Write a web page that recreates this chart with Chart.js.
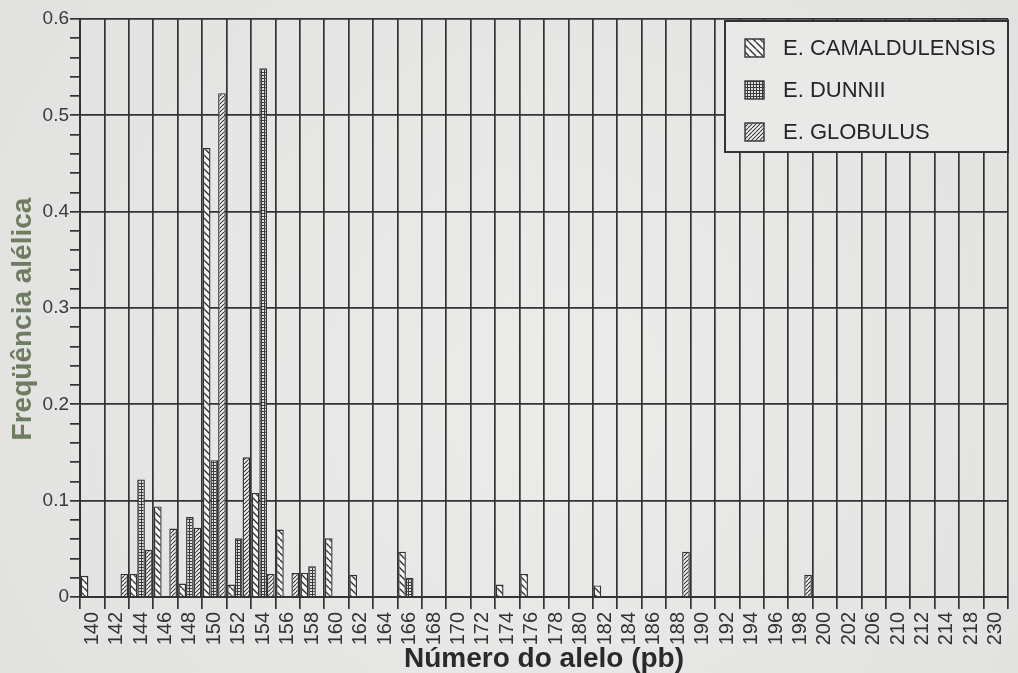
<!DOCTYPE html>
<html>
<head>
<meta charset="utf-8">
<script src="https://cdn.jsdelivr.net/npm/chart.js@4.4.1/dist/chart.umd.min.js"></script>
<style>
  html, body { margin: 0; padding: 0; background: #e7e7e5; }
  #wrap { width: 1018px; height: 673px; }
</style>
</head>
<body>
<div id="wrap"><canvas id="chart" width="1018" height="673"></canvas></div>
<script>
// Allele sizes (pb) on the category axis
const alleles = ['140','142','144','146','148','150','152','154','156','158','160','162','164','166','168','170','172','174','176','178','180','182','184','186','188','190','192','194','196','198','200','202','206','210','212','214','218','230'];

// Allele frequencies per species (null = allele not observed)
const camaldulensis = [0.022, null, 0.024, 0.094, 0.014, 0.466, 0.013, 0.108, 0.070, 0.025, 0.061, 0.023, null, 0.047, null, null, null, 0.013, 0.024, null, null, 0.012,
  null, null, null, null, null, null, null, null, null, null, null, null, null, null, null, null];
const dunnii = [null, null, 0.122, null, 0.083, 0.142, 0.061, 0.549, null, 0.032, null, null, null, 0.020,
  null, null, null, null, null, null, null, null, null, null, null, null, null, null, null, null, null, null, null, null, null, null, null, null];
const globulus = [null, 0.024, 0.049, 0.071, 0.072, 0.523, 0.145, 0.024, 0.025, null, null, null, null, null, null, null, null, null, null, null, null, null, null, null,
  0.047, null, null, null, null, 0.023, null, null, null, null, null, null, null, null];

const seriesNames = ['E. CAMALDULENSIS', 'E. DUNNII', 'E. GLOBULUS'];
const yTickLabels = ['0', '0.1', '0.2', '0.3', '0.4', '0.5', '0.6'];
const yTitle = 'Freqüência alélica';

const FONT = "'Liberation Sans', Arial, Helvetica, sans-serif";
const INK = '#333333';

// Fill patterns for the three species
function makePattern(kind) {
  const c = document.createElement('canvas');
  const g = c.getContext('2d');
  let s;
  if (kind === 'back') {          // wide "\" hatch
    s = 7; c.width = c.height = s;
    g.fillStyle = '#f5f5f3'; g.fillRect(0, 0, s, s);
    g.strokeStyle = '#363636'; g.lineWidth = 1.4;
    g.beginPath();
    for (const k of [-s, 0, s]) { g.moveTo(k, 0); g.lineTo(k + s, s); }
    g.stroke();
  } else if (kind === 'fwd') {    // fine "/" hatch
    s = 4; c.width = c.height = s;
    g.fillStyle = '#f5f5f3'; g.fillRect(0, 0, s, s);
    g.strokeStyle = '#363636'; g.lineWidth = 1.1;
    g.beginPath();
    for (const k of [-s, 0, s]) { g.moveTo(k, s); g.lineTo(k + s, 0); }
    g.stroke();
  } else {                        // dense cross-hatch
    s = 3; c.width = c.height = s;
    g.fillStyle = '#e0e0de'; g.fillRect(0, 0, s, s);
    g.fillStyle = '#3a3a3a';
    g.fillRect(0, 0, s, 1);
    g.fillRect(0, 0, 1, s);
  }
  return g.createPattern(c, 'repeat');
}

const patterns = [makePattern('back'), makePattern('dots'), makePattern('fwd')];

function isMajor(v) { return Math.abs(v * 10 - Math.round(v * 10)) < 1e-6; }

// Paper background
const paperPlugin = {
  id: 'paper',
  beforeDraw(chart) {
    const { ctx, width, height } = chart;
    ctx.save();
    const grd = ctx.createRadialGradient(width * 0.55, height * 0.6, 50, width * 0.5, height * 0.5, width * 0.75);
    grd.addColorStop(0, '#ebebe9');
    grd.addColorStop(1, '#dfdfdd');
    ctx.fillStyle = grd;
    ctx.fillRect(0, 0, width, height);
    ctx.restore();
  }
};

// Vertical axis title, set slightly below the plot's middle
const yTitlePlugin = {
  id: 'yTitle',
  afterDraw(chart) {
    const { ctx, chartArea: a } = chart;
    ctx.save();
    ctx.translate(23, (a.top + a.bottom) / 2 + 11);
    ctx.rotate(-Math.PI / 2);
    ctx.font = 'bold 28px ' + FONT;
    ctx.fillStyle = '#6f7c60';
    ctx.textAlign = 'center';
    ctx.textBaseline = 'middle';
    ctx.fillText(yTitle, 0, 0);
    ctx.restore();
  }
};

// Boxed legend in the top-right corner of the plot
const boxLegendPlugin = {
  id: 'boxLegend',
  afterDraw(chart) {
    const { ctx, chartArea: a } = chart;
    const w = 283, h = 131;
    const x0 = a.right - w, y0 = a.top + 2;
    ctx.save();
    ctx.fillStyle = '#e9e9e7';
    ctx.fillRect(x0, y0, w, h);
    ctx.strokeStyle = INK; ctx.lineWidth = 2;
    ctx.strokeRect(x0, y0, w, h);
    ctx.font = '22px ' + FONT;
    ctx.textBaseline = 'middle';
    chart.data.datasets.forEach((ds, i) => {
      const cy = y0 + 27 + i * 42;
      ctx.fillStyle = ds.backgroundColor;
      ctx.fillRect(x0 + 20, cy - 9, 19, 18);
      ctx.lineWidth = 1.4; ctx.strokeStyle = INK;
      ctx.strokeRect(x0 + 20, cy - 9, 19, 18);
      ctx.fillStyle = '#262626';
      ctx.fillText(ds.label, x0 + 58, cy + 1);
    });
    ctx.restore();
  }
};

const seriesData = [camaldulensis, dunnii, globulus];

new Chart(document.getElementById('chart'), {
  type: 'bar',
  data: {
    labels: alleles,
    datasets: seriesData.map((d, i) => ({
      label: seriesNames[i],
      data: d,
      backgroundColor: patterns[i],
      borderColor: INK,
      borderWidth: 1.4,
      categoryPercentage: 0.94,
      barPercentage: 1.0
    }))
  },
  options: {
    responsive: false,
    animation: false,
    devicePixelRatio: 1,
    layout: { padding: { top: 19, right: 10, left: 0, bottom: 0 } },
    plugins: { legend: { display: false }, tooltip: { enabled: false } },
    scales: {
      x: {
        offset: true,
        grid: { offset: true, color: INK, lineWidth: 1.7, tickLength: 12, tickColor: INK },
        border: { color: INK, width: 2 },
        ticks: { autoSkip: false, minRotation: 90, maxRotation: 90, padding: 3, color: '#333', font: { family: FONT, size: 20 } },
        title: { display: true, text: 'Número do alelo (pb)', color: '#2a2a2a', font: { family: FONT, size: 28, weight: 'bold' }, padding: { top: 0, bottom: -3 } },
        afterFit(s) { s.height = 76; s.paddingRight = 0; s.paddingLeft = 0; }
      },
      y: {
        min: 0, max: 0.6,
        grid: {
          color: c => isMajor(c.tick.value) ? INK : 'rgba(0,0,0,0)',
          tickColor: INK, lineWidth: 1.7, tickLength: 10
        },
        border: { color: INK, width: 2 },
        ticks: {
          stepSize: 0.02, autoSkip: false, padding: 1, color: '#3a3a3a',
          font: { family: FONT, size: 19 },
          callback: v => isMajor(v) ? yTickLabels[Math.round(v * 10)] : ''
        },
        afterFit(s) { s.width = 80; }
      }
    }
  },
  plugins: [paperPlugin, yTitlePlugin, boxLegendPlugin]
});
</script>
</body>
</html>
